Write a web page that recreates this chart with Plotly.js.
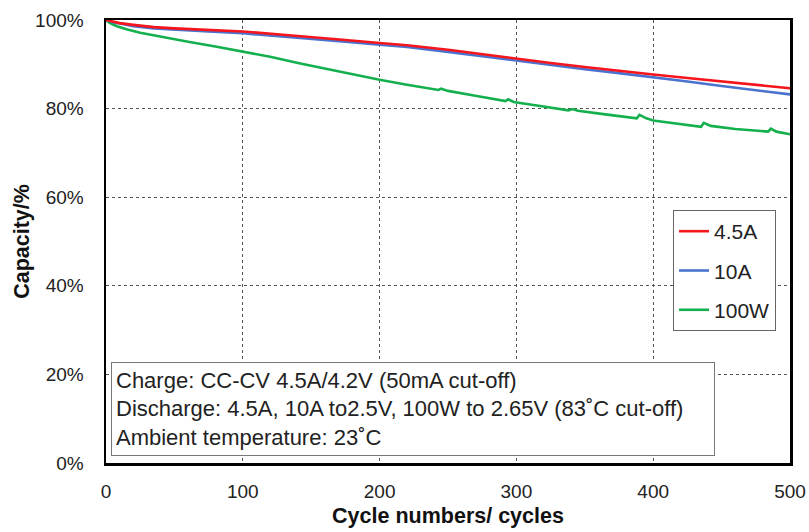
<!DOCTYPE html>
<html>
<head>
<meta charset="utf-8">
<script src="https://cdn.plot.ly/plotly-3.0.1.min.js"></script>
<style>html,body{margin:0;padding:0;background:#fff;}#chart{width:809px;height:532px;}</style>
</head>
<body>
<div id="chart"></div>
<script>
// Cycle numbers (x) and capacity (%)
const cyclesA = [0, 5, 10, 20, 35, 50, 75, 100, 125, 150, 175, 200, 220, 250, 275, 300, 325, 350, 375, 400, 425, 450, 475, 500];
const cap45A  = [100, 99.6, 99.3, 98.9, 98.4, 98.1, 97.7, 97.4, 96.8, 96.2, 95.5, 94.8, 94.3, 93.3, 92.3, 91.2, 90.3, 89.4, 88.5, 87.7, 86.9, 86.1, 85.3, 84.6];
const cap10A  = [100, 99.5, 99.2, 98.6, 98.1, 97.8, 97.4, 97.0, 96.4, 95.8, 95.1, 94.4, 93.9, 92.8, 91.8, 90.8, 89.8, 88.9, 88.0, 87.1, 86.1, 85.1, 84.1, 83.2];

const cycles100W = [0, 3, 8, 15, 25, 40, 60, 80, 100, 120, 142, 164, 185, 200, 220, 243, 245, 250, 270, 292, 294, 298, 315, 338, 341, 345, 365, 388, 390, 395, 400, 420, 435, 437, 442, 460, 484, 486, 490, 500];
const cap100W    = [100, 99.3, 98.6, 97.9, 97.1, 96.2, 95.1, 94.0, 92.9, 91.7, 90.2, 88.8, 87.4, 86.5, 85.4, 84.2, 84.5, 84.0, 82.9, 81.7, 82.1, 81.5, 80.7, 79.6, 79.9, 79.5, 78.7, 77.8, 78.6, 77.8, 77.3, 76.5, 75.9, 76.8, 76.1, 75.4, 74.8, 75.5, 74.8, 74.2];

const xTicks = [0, 100, 200, 300, 400, 500];
const yTicks = [0, 20, 40, 60, 80, 100];
const noteLines = [
  "Charge: CC-CV 4.5A/4.2V (50mA cut-off)",
  "Discharge: 4.5A, 10A to2.5V, 100W to 2.65V (83˚C cut-off)",
  "Ambient temperature: 23˚C"
];

const font = "Liberation Sans, Arial, sans-serif";
const traces = [
  {x: cyclesA, y: cap45A, name: "4.5A", mode: "lines", legendgroup: "a",
   line: {color: "#f5151c", width: 2.6}},
  {x: cyclesA, y: cap10A, name: "10A", mode: "lines", legendgroup: "b",
   line: {color: "#4a72cf", width: 2.6}},
  {x: cycles100W, y: cap100W, name: "100W", mode: "lines", legendgroup: "c",
   line: {color: "#14b04e", width: 2.6}}
];
// draw order: green first, then blue, then red on top
const ordered = [traces[2], traces[1], traces[0]];
ordered[0].legendrank = 3; ordered[1].legendrank = 2; ordered[2].legendrank = 1;

const layout = {
  width: 809, height: 532,
  margin: {l: 106, r: 19, t: 20, b: 69},
  paper_bgcolor: "#fff", plot_bgcolor: "#fff",
  font: {family: font, size: 18, color: "#222"},
  showlegend: true,
  legend: {
    x: 0.829, y: 0.571, xanchor: "left", yanchor: "top",
    bgcolor: "#fff", bordercolor: "#666", borderwidth: 1,
    font: {family: font, size: 21, color: "#222"},
    tracegroupgap: 9, itemwidth: 30, traceorder: "grouped"
  },
  xaxis: {
    range: [0, 500], tickvals: xTicks, ticktext: xTicks.map(String),
    showline: true, linecolor: "#000", linewidth: 2.5, mirror: true,
    showgrid: true, gridcolor: "#555", gridwidth: 1, griddash: "dot",
    zeroline: false, ticks: "", ticklabelstandoff: 10,
    tickfont: {family: font, size: 19, color: "#222"},
    title: {text: "<b>Cycle numbers/ cycles</b>", font: {family: font, size: 21.5, color: "#111"}, standoff: 7}
  },
  yaxis: {
    range: [0, 100], tickvals: yTicks, ticktext: yTicks.map(v => v + "%"),
    showline: true, linecolor: "#000", linewidth: 2.5, mirror: true,
    showgrid: true, gridcolor: "#555", gridwidth: 1, griddash: "dot",
    zeroline: false, ticks: "", ticklabelstandoff: 16,
    tickfont: {family: font, size: 19, color: "#222"},
    title: {text: "<b>Capacity/%</b>", font: {family: font, size: 21.5, color: "#111"}, standoff: 0}
  },
  annotations: [{
    xref: "paper", yref: "paper", x: 0.007, y: 0.016, xanchor: "left", yanchor: "bottom",
    text: noteLines.join("<br>"), align: "left", showarrow: false,
    bgcolor: "#fff", bordercolor: "#777", borderwidth: 1, borderpad: 4,
    width: 594, height: 84, valign: "middle",
    font: {family: font, size: 22, color: "#222"}
  }]
};
Plotly.newPlot("chart", ordered, layout, {displayModeBar: false, staticPlot: true});
</script>
</body>
</html>
